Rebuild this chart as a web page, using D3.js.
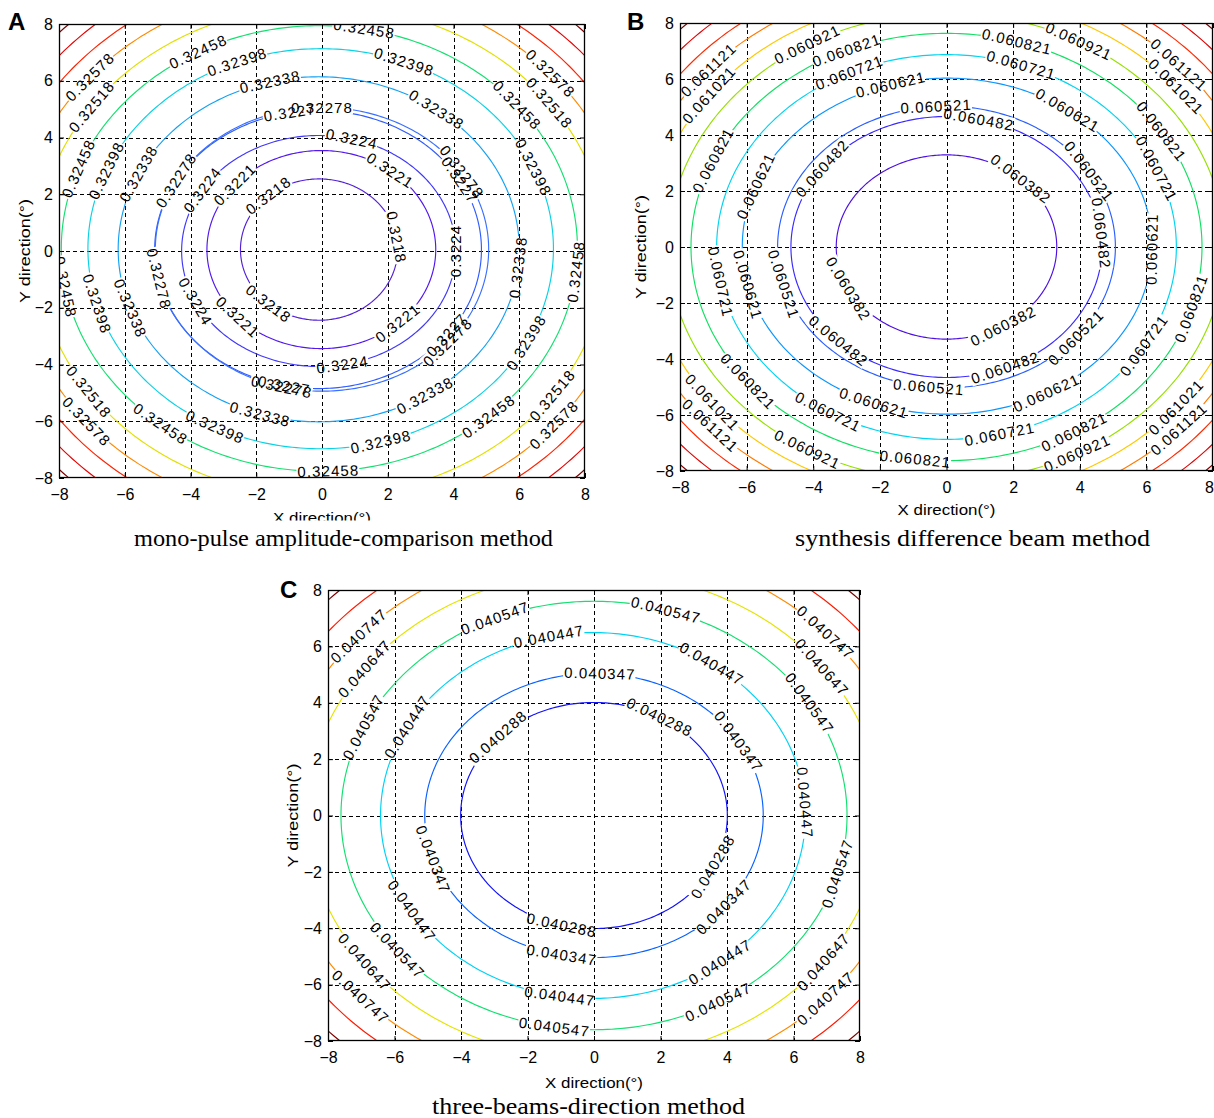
<!DOCTYPE html>
<html><head><meta charset="utf-8">
<script src="https://cdn.jsdelivr.net/npm/d3@7"></script>
<style>
body{margin:0;background:#fff;}
svg{display:block;}
</style></head><body>
<svg id="chart" width="1214" height="1118"></svg>
<script>
// ---------------- data ----------------
const axisTicks = [-8, -6, -4, -2, 0, 2, 4, 6, 8];
const gridValues = [-6, -4, -2, 0, 2, 4, 6];

// Panel A : mono-pulse amplitude-comparison method
const levelsA = [0.3218, 0.3221, 0.3224, 0.3227, 0.32278, 0.32338, 0.32398, 0.32458, 0.32518, 0.32578, 0.32638, 0.32698, 0.32758];
const centerXA = [-0.09, -0.02, -0.10, -0.12, 0.00, -0.10, -0.04, -0.08, 0, 0, 0, 0, 0];
const centerYA = [0.05, 0.05, 0.00, 0.05, 0.06, 0.06, 0.08, 0.09, 0, 0, 0, 0, 0];
const radiusXA = [2.39, 3.48, 4.17, 4.97, 5.07, 6.10, 7.08, 7.85, 8.66, 9.35, 9.95, 10.55, 11.1];
const radiusYA = [2.49, 3.49, 4.07, 4.90, 5.00, 6.08, 7.05, 7.85, 8.66, 9.35, 9.95, 10.55, 11.1];
const colorsA = ["#5322d6", "#5218ee", "#4038fa", "#2f5cff", "#3a70ff", "#14a2f4", "#0ad2e4", "#14e070", "#e2e000", "#ff8a00", "#ff2200", "#e60000", "#800000"];
const captionA = "mono-pulse amplitude-comparison method";

// Panel B : synthesis difference beam method
const levelsB = [0.060382, 0.060482, 0.060521, 0.060621, 0.060721, 0.060821, 0.060921, 0.061021, 0.061121, 0.061221, 0.061321, 0.061421];
const centerXB = [0, 0, 0, 0.02, 0, 0, 0, 0, 0, 0, 0, 0];
const centerYB = [0, 0, 0, 0.03, 0, 0, 0, 0, 0, 0, 0, 0];
const radiusXB = [3.31, 4.67, 5.07, 6.15, 6.90, 7.67, 8.35, 8.96, 9.54, 10.10, 10.65, 11.15];
const radiusYB = [3.29, 4.66, 5.03, 6.00, 6.87, 7.63, 8.35, 8.96, 9.54, 10.10, 10.65, 11.15];
const colorsB = ["#4c10e0", "#3a2aff", "#2a5eff", "#0a96ff", "#00d4f0", "#12e062", "#96e000", "#ffc800", "#ff7a00", "#ff2a00", "#e20000", "#800000"];
const captionB = "synthesis difference beam method";

// Panel C : three-beams-direction method
const levelsC = [0.040288, 0.040347, 0.040447, 0.040547, 0.040647, 0.040747, 0.040847, 0.040947];
const centerXC = [0, 0, -0.03, 0, 0, 0, 0, 0];
const centerYC = [0, 0, 0, 0, 0, 0, 0, 0];
const radiusXC = [4.01, 5.09, 6.39, 7.61, 8.64, 9.52, 10.32, 11.06];
const radiusYC = [4.01, 5.04, 6.49, 7.60, 8.64, 9.52, 10.32, 11.06];
const colorsC = ["#1212f6", "#0a62ff", "#00d2f4", "#12e070", "#e4e400", "#ff8a00", "#ff1a00", "#800000"];
const captionC = "three-beams-direction method";

// ---------------- label placement (level, angle in degrees) ----------------
const labelSpotsA = [
  [0.32578,139],[0.32518,144],[0.32458,118],[0.32398,111],[0.32338,104],[0.3227,100],[0.32278,90],
  [0.32458,159],[0.32398,157],[0.32338,154],[0.32278,151],[0.3224,148],[0.3221,139],[0.3218,130],
  [0.32458,80],[0.32398,69],[0.32338,54],[0.3224,76],[0.3221,53],[0.32278,33],[0.3227,30],[0.32578,42],
  [0.32518,37],[0.32458,40],[0.32398,24],[0.3224,0],[0.3218,10],[0.32338,-6],[0.32458,-6],
  [0.3221,-48],[0.32278,-41],[0.3227,-38],[0.3224,-80],[0.32338,-58],[0.32398,-28],[0.32458,-49],
  [0.32518,-36],[0.32578,-41],[0.32398,-75],[0.32458,-88],
  [0.32338,-107],[0.32278,-104],[0.3227,-102],[0.3218,-130],[0.3221,-137],[0.3224,-154],[0.32278,-168],
  [0.32338,-160],[0.32398,-164],[0.32458,-170],[0.32518,-145],[0.32578,-140],[0.32458,-128],[0.32398,-117]
];
const labelSpotsB = [
  [0.061121,138.5],[0.061021,142.7],[0.060921,120],[0.060821,113],[0.060721,115],[0.060621,106],[0.060521,93.5],[0.060482,78],
  [0.060821,156],[0.060621,159],[0.060482,143],
  [0.060821,74],[0.060921,61.6],[0.060721,71],[0.060621,54],[0.061121,43],[0.061021,39.7],[0.060821,32.7],
  [0.060721,24],[0.060521,32.4],[0.060382,47.6],[0.060482,6],[0.060621,-1],
  [0.060821,-16.7],[0.060382,-59],[0.060521,-40],[0.060482,-67.8],[0.060721,-30.8],[0.060621,-61],[0.061021,-39.7],
  [0.061121,-43],[0.060721,-76.6],[0.060821,-60],[0.060921,-62],[0.060521,-96],[0.060821,-97],
  [0.060721,-169.5],[0.060621,-166.7],[0.060521,-164.7],[0.060382,-153],[0.060482,-134],[0.060821,-141],
  [0.060721,-121],[0.060621,-111],[0.061021,-141.7],[0.061121,-138],[0.060921,-120]
];
const labelSpotsC = [
  [0.040747,138],[0.040647,143],[0.040547,155.6],[0.040447,151],[0.040547,113],[0.040447,102],[0.040347,88],[0.040288,136],
  [0.040547,73.5],[0.040447,56],[0.040288,60.5],[0.040347,31.4],[0.040747,43],[0.040647,37.5],[0.040547,31.6],[0.040447,4],
  [0.040347,-162],[0.040447,-148.5],[0.040547,-141],[0.040647,-143],[0.040747,-137.5],[0.040288,-104],[0.040347,-101],
  [0.040447,-99],[0.040547,-99],
  [0.040288,-27],[0.040347,-40],[0.040447,-53.3],[0.040547,-60.6],[0.040547,-15.8],[0.040647,-37],[0.040747,-43]
];

// ---------------- layout ----------------
const panels = [
  {id:"A", levels:levelsA, cx:centerXA, cy:centerYA, rx:radiusXA, ry:radiusYA, colors:colorsA, spots:labelSpotsA,
   caption:captionA, box:{x0:59, x1:585, y0:24, y1:478}, letterX:8, letterY:30,
   yTitleX:25, xTitleY:523, xTitleClip:520.5, capX:343.5, capY:546, capLen:419},
  {id:"B", levels:levelsB, cx:centerXB, cy:centerYB, rx:radiusXB, ry:radiusYB, colors:colorsB, spots:labelSpotsB,
   caption:captionB, box:{x0:680, x1:1213, y0:23, y1:471}, letterX:627, letterY:30,
   yTitleX:641, xTitleY:515, xTitleClip:null, capX:972.5, capY:546, capLen:355},
  {id:"C", levels:levelsC, cx:centerXC, cy:centerYC, rx:radiusXC, ry:radiusYC, colors:colorsC, spots:labelSpotsC,
   caption:captionC, box:{x0:328, x1:860, y0:590, y1:1041}, letterX:280, letterY:598,
   yTitleX:293, xTitleY:1088, xTitleClip:null, capX:588.5, capY:1114, capLen:313}
];

const W = 1214, H = 1118;
const SANS = '"Liberation Sans", Arial, sans-serif';
const SERIF = '"Liberation Serif", "Times New Roman", serif';
const svg = d3.select("#chart");
const defs = svg.append("defs");
svg.append("rect").attr("width", W).attr("height", H).attr("fill", "#fff");

function drawPanel(p) {
  const b = p.box;
  const x = d3.scaleLinear().domain([-8, 8]).range([b.x0, b.x1]);
  const y = d3.scaleLinear().domain([-8, 8]).range([b.y1, b.y0]);
  const kx = (b.x1 - b.x0) / 16, ky = (b.y1 - b.y0) / 16;
  const g = svg.append("g").style("font-family", SANS);

  defs.append("clipPath").attr("id", "clip" + p.id).append("rect")
    .attr("x", b.x0).attr("y", b.y0).attr("width", b.x1 - b.x0).attr("height", b.y1 - b.y0);

  // grid
  const grid = g.append("g").attr("stroke", "#000").attr("stroke-width", 1)
    .attr("stroke-dasharray", "4,3").attr("shape-rendering", "crispEdges");
  grid.selectAll(".gx").data(gridValues).join("line").attr("class", "gx")
    .attr("x1", d => Math.round(x(d)) + 0.5).attr("x2", d => Math.round(x(d)) + 0.5)
    .attr("y1", b.y0).attr("y2", b.y1);
  grid.selectAll(".gy").data(gridValues).join("line").attr("class", "gy")
    .attr("y1", d => Math.round(y(d)) + 0.5).attr("y2", d => Math.round(y(d)) + 0.5)
    .attr("x1", b.x0).attr("x2", b.x1);

  // contour lines (masked under labels)
  const maskId = "mask" + p.id;
  const cont = g.append("g").attr("clip-path", `url(#clip${p.id})`)
    .append("g").attr("mask", `url(#${maskId})`);
  const angles = d3.range(0, 361, 1);
  const line = d3.line().x(d => x(d[0])).y(d => y(d[1]));
  p.levels.forEach((lev, i) => {
    const pts = angles.map(a => {
      const t = a * Math.PI / 180;
      return [p.cx[i] + p.rx[i] * Math.cos(t), p.cy[i] + p.ry[i] * Math.sin(t)];
    });
    cont.append("path").attr("d", line(pts)).attr("fill", "none")
      .attr("stroke", p.colors[i]).attr("stroke-width", 1.15);
  });

  // labels
  const labG = g.append("g").attr("clip-path", `url(#clip${p.id})`)
    .style("font-size", "15px").style("letter-spacing", "1.1px").style("font-family", SANS);
  const mask = defs.append("mask").attr("id", maskId).attr("maskUnits", "userSpaceOnUse")
    .attr("x", 0).attr("y", 0).attr("width", W).attr("height", H);
  mask.append("rect").attr("width", W).attr("height", H).attr("fill", "#fff");
  p.spots.forEach(([lev, ang]) => {
    const i = p.levels.indexOf(lev);
    if (i < 0) return;
    const t = ang * Math.PI / 180;
    const dx = p.cx[i] + p.rx[i] * Math.cos(t), dy = p.cy[i] + p.ry[i] * Math.sin(t);
    const tx = -p.rx[i] * Math.sin(t) * kx, ty = -p.ry[i] * Math.cos(t) * ky;
    let rot = Math.atan2(ty, tx) * 180 / Math.PI;
    if (rot > 90) rot -= 180;
    if (rot < -90) rot += 180;
    const tr = `translate(${x(dx)},${y(dy)}) rotate(${rot})`;
    const txt = labG.append("text").attr("transform", tr).attr("fill", "#000")
      .attr("text-anchor", "middle").attr("dy", "0.35em").text(String(lev));
    const bb = txt.node().getBBox();
    mask.append("rect").attr("transform", tr)
      .attr("x", bb.x - 1).attr("y", bb.y + 1).attr("width", bb.width + 1).attr("height", bb.height - 2)
      .attr("fill", "#000");
  });

  // axes (ticks inward)
  const fmt = d3.format("d");
  const axB = d3.axisBottom(x).tickValues(axisTicks).tickSize(-5).tickPadding(11).tickFormat(fmt);
  const axL = d3.axisLeft(y).tickValues(axisTicks).tickSize(-5).tickPadding(6).tickFormat(fmt);
  const axT = d3.axisTop(x).tickValues(axisTicks).tickSize(-5).tickFormat("");
  const axR = d3.axisRight(y).tickValues(axisTicks).tickSize(-5).tickFormat("");
  const styleAxis = sel => {
    sel.select(".domain").remove();
    sel.selectAll(".tick line").attr("stroke", "#000");
    sel.selectAll(".tick text").style("font-size", "16px").style("font-family", SANS).attr("fill", "#000");
  };
  const bottomAxis = g.append("g").attr("transform", `translate(0,${b.y1})`).call(axB).call(styleAxis);
  // keep the right-most tick label inside the window
  bottomAxis.selectAll(".tick text").filter(d => x(d) + 6 > W).attr("text-anchor", "end").attr("x", W - x(8) - 0.5);
  g.append("g").attr("transform", `translate(${b.x0},0)`).call(axL).call(styleAxis);
  g.append("g").attr("transform", `translate(0,${b.y0})`).call(axT).call(styleAxis);
  g.append("g").attr("transform", `translate(${b.x1},0)`).call(axR).call(styleAxis);

  // frame
  g.append("rect").attr("x", b.x0 + 0.5).attr("y", b.y0 + 0.5)
    .attr("width", b.x1 - b.x0 - 1).attr("height", b.y1 - b.y0 - 1)
    .attr("fill", "none").attr("stroke", "#000").attr("stroke-width", 1.3);

  // axis titles
  const xt = g.append("text").attr("x", (b.x0 + b.x1) / 2).attr("y", p.xTitleY)
    .attr("text-anchor", "middle").style("font-size", "15px").attr("textLength", 98)
    .attr("lengthAdjust", "spacingAndGlyphs").text("X direction(°)");
  if (p.xTitleClip) {
    defs.append("clipPath").attr("id", "xtclip" + p.id).append("rect")
      .attr("x", 0).attr("y", 0).attr("width", W).attr("height", p.xTitleClip);
    xt.attr("clip-path", `url(#xtclip${p.id})`);
  }
  g.append("text").attr("transform", `translate(${p.yTitleX},${(b.y0 + b.y1) / 2}) rotate(-90)`)
    .attr("text-anchor", "middle").attr("dy", "0.35em").style("font-size", "15px")
    .attr("textLength", 104).attr("lengthAdjust", "spacingAndGlyphs").text("Y direction(°)");

  // panel letter
  g.append("text").attr("x", p.letterX).attr("y", p.letterY).style("font-size", "24px")
    .style("font-weight", "bold").text(p.id);

  // caption
  g.append("text").attr("x", p.capX).attr("y", p.capY).attr("text-anchor", "middle")
    .style("font-family", SERIF).style("font-size", "24px")
    .attr("textLength", p.capLen).attr("lengthAdjust", "spacingAndGlyphs").text(p.caption);
}

panels.forEach(drawPanel);
</script>
</body></html>
